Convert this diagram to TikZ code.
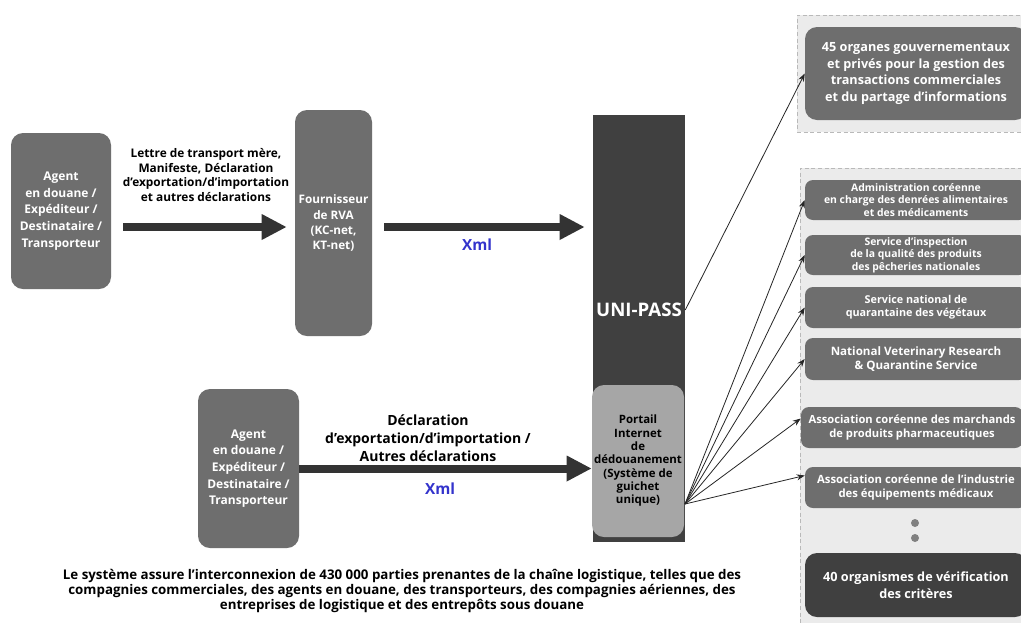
\documentclass[tikz,border=0pt]{standalone}
\usepackage{fontspec}
\setmainfont{Open Sans}
\usetikzlibrary{arrows.meta,calc}
\definecolor{boxgray}{HTML}{6E6E6E}
\definecolor{unidark}{HTML}{404040}
\definecolor{portgray}{HTML}{A6A6A6}
\definecolor{zonegray}{HTML}{EBEBEB}
\definecolor{xmlblue}{HTML}{3333CC}
\definecolor{arrowdark}{HTML}{333333}

\begin{document}
\begin{tikzpicture}[x=0.75pt,y=-0.75pt,
  sz/.style 2 args={minimum width=#1*0.75pt,minimum height=#2*0.75pt},
  fnt/.style 2 args={font=\fontsize{#1}{#2}\selectfont\bfseries},
  blk/.style={fill=#1,rounded corners=9pt,text=white,align=center,inner sep=1pt},
  blk/.default=boxgray,
  org/.style={blk,rounded corners=6pt,sz={222}{#1}},
  zone/.style={fill=zonegray,draw=gray!55,densely dashed,line width=0.4pt,inner sep=0pt},
  lbl/.style={align=center,inner sep=1pt},
  xml/.style={text=xmlblue,fnt={11.5}{13}},
  fat/.style={line width=6pt,draw=arrowdark,-{Triangle[length=18.75pt,width=18pt]}},
  fine/.style={draw=black!85,line width=0.6pt,-{Stealth[length=6pt,width=4.5pt]}}]
\clip (0,0) rectangle (1021,622);
\fill[white] (0,0) rectangle (1021,622);
% senders and provider
\node[blk,sz={100}{156},fnt={9}{12.5}] (ag1) at (61,211) {Agent\\en douane /\\Expéditeur /\\Destinataire /\\Transporteur};
\node[lbl,fnt={8.9}{11}] (lettre) at (206,175) {Lettre de transport mère,\\Manifeste, Déclaration\\d’exportation/d’importation\\et autres déclarations};
\node[blk,sz={77}{226},fnt={8.8}{11.3}] (rva) at (333.5,223) {Fournisseur\\de RVA\\(KC-net,\\KT-net)};
\node[xml] (xml1) at (477,245) {Xml};
\node[blk,sz={101}{159},fnt={9}{12.5}] (ag2) at (248.5,468.5) {Agent\\en douane /\\Expéditeur /\\Destinataire /\\Transporteur};
\node[lbl,fnt={10.5}{13.5}] (decl) at (428,438) {Déclaration\\d’exportation/d’importation /\\Autres déclarations};
\node[xml] (xml2) at (440,489) {Xml};
\coordinate (lvl) at (0,227);
% UNI-PASS column
\node[fill=unidark,sz={92}{427},inner sep=0pt] (uni) at (639,328.5) {};
\node[text=white,fnt={14}{16}] (unilab) at (639,310) {UNI-PASS};
\node[blk=portgray,text=black,sz={92}{152},fnt={8.6}{10}] (portal) at (638,461) {Portail\\Internet\\de\\dédouanement\\(Système de\\guichet\\unique)};
% receiving bodies
\node[zone,sz={233}{117}] (zonetop) at (913.5,73.5) {};
\node[zone,sz={230}{462}] (zonelow) at (915,399) {};
\node[org=93,rounded corners=9pt,fnt={9.5}{12.4}] (govt) at (916,73.5) {45 organes gouvernementaux\\et privés pour la gestion des\\transactions commerciales\\et du partage d’informations};
\node[org=40,fnt={7.8}{9.3}] (adm) at (916,200) {Administration coréenne\\en charge des denrées alimentaires\\et des médicaments};
\node[org=40,fnt={7.8}{9.3}] (insp) at (916,255) {Service d’inspection\\de la qualité des produits\\des pêcheries nationales};
\node[org=41,fnt={8.1}{10}] (veg) at (916,307.5) {Service national de\\quarantaine des végétaux};
\node[org=42,fnt={8.7}{10.2}] (vet) at (916,359) {National Veterinary Research\\\& Quarantine Service};
\node[org=41,fnt={8.4}{10.5}] (phar) at (912,427.5) {Association coréenne des marchands\\de produits pharmaceutiques};
\node[org=41,fnt={8.5}{10.5}] (med) at (916,487.5) {Association coréenne de l’industrie\\des équipements médicaux};
\fill[gray] (915,523) circle (3pt) (915,538) circle (3pt);
\node[org=64,blk=unidark,rounded corners=9pt,fnt={9.5}{12.8}] (crit) at (916,585) {40 organismes de vérification\\des critères};
% flows
\draw[fat,shorten <=9pt,shorten >=6pt] (ag1.east |- lvl) -- (rva.west |- lvl);
\draw[fat,shorten <=9pt,shorten >=6pt] (rva.east |- lvl) -- (uni.west |- lvl);
\draw[fat] (ag2.east) -- (ag2.east -| portal.west);
\draw[fine] (uni.east |- unilab) -- (govt.west);
\coordinate (fan) at (685,504);
\draw[fine] (fan) -- (adm.west);
\draw[fine] (fan) -- (insp.west);
\draw[fine] (fan) -- (veg.west);
\draw[fine] (fan) -- (vet.west);
\draw[fine] (fan) -- ($(phar.west)+(0,-9)$);
\draw[fine] (fan) -- ($(med.west)+(0,-12)$);
\node[lbl,fnt={10}{11.5}] (note) at (402,591) {Le système assure l’interconnexion de 430 000 parties prenantes de la chaîne logistique, telles que des\\compagnies commerciales, des agents en douane, des transporteurs, des compagnies aériennes, des\\entreprises de logistique et des entrepôts sous douane};
\end{tikzpicture}
\end{document}
